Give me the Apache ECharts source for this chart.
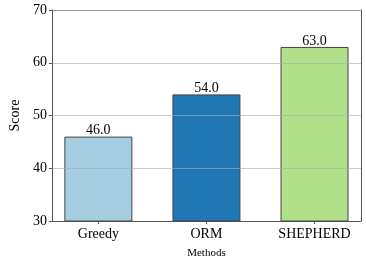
<!DOCTYPE html>
<html><head><meta charset="utf-8">
<script src="https://cdn.jsdelivr.net/npm/echarts@6/dist/echarts.min.js"></script>
<style>html,body{margin:0;padding:0;background:#fff}#c{width:366px;height:264px}</style>
</head><body><div id="c"></div>
<script>
const categories = ['Greedy', 'ORM', 'SHEPHERD'];
const scores = [46.0, 54.0, 63.0];
const barColors = ['#a6cee3', '#1f78b4', '#b2df8a'];
const yTicks = [30, 40, 50, 60, 70];

const FONT = '"Liberation Serif", "DejaVu Serif", serif';
const positions = categories.map((c, i) => i);
const chart = echarts.init(document.getElementById('c'));
chart.setOption({
  animation: false,
  backgroundColor: '#fff',
  grid: {left: 37, right: 5, top: 10, bottom: 34, containLabel: false},
  xAxis: [{
    type: 'value', min: -0.43, max: 2.43,
    name: 'Methods', nameLocation: 'middle', nameGap: 27,
    nameTextStyle: {fontFamily: FONT, fontSize: 11, color: '#000'},
    axisLine: {show: true, onZero: false, lineStyle: {color: '#555', width: 1}},
    axisTick: {show: true, customValues: positions, length: 3, lineStyle: {color: '#555'}},
    axisLabel: {customValues: positions, formatter: v => categories[Math.round(v)] || '',
      fontFamily: FONT, fontSize: 14, color: '#000', margin: 6},
    splitLine: {show: false}
  }, {
    type: 'value', position: 'top', min: -0.43, max: 2.43,
    axisLine: {show: true, onZero: false, lineStyle: {color: '#999', width: 1}},
    axisTick: {show: false}, axisLabel: {show: false}, splitLine: {show: false}
  }],
  yAxis: [{
    type: 'value', min: yTicks[0], max: yTicks[yTicks.length - 1], interval: 10,
    z: 5,
    name: 'Score', nameLocation: 'middle', nameGap: 23, nameRotate: 90,
    nameTextStyle: {fontFamily: FONT, fontSize: 14, color: '#000'},
    axisLine: {show: true, onZero: false, lineStyle: {color: '#555', width: 1}},
    axisTick: {show: true, length: 3, lineStyle: {color: '#555'}},
    axisLabel: {fontFamily: FONT, fontSize: 14, color: '#000', margin: 5},
    splitLine: {show: true, showMinLine: false, showMaxLine: false,
      lineStyle: {color: 'rgba(170,170,170,0.6)', width: 1}}
  }, {
    type: 'value', position: 'right', min: yTicks[0], max: yTicks[yTicks.length - 1],
    axisLine: {show: true, onZero: false, lineStyle: {color: '#555', width: 1}},
    axisTick: {show: false}, axisLabel: {show: false}, splitLine: {show: false}
  }],
  series: [{
    type: 'bar',
    barWidth: 68,
    data: scores.map((v, i) => ({value: [positions[i], v],
      itemStyle: {color: barColors[i], borderColor: '#444', borderWidth: 1}})),
    label: {show: true, position: 'top', distance: -1, formatter: p => p.value[1].toFixed(1),
      fontFamily: FONT, fontSize: 14, color: '#000'}
  }]
});
</script></body></html>
